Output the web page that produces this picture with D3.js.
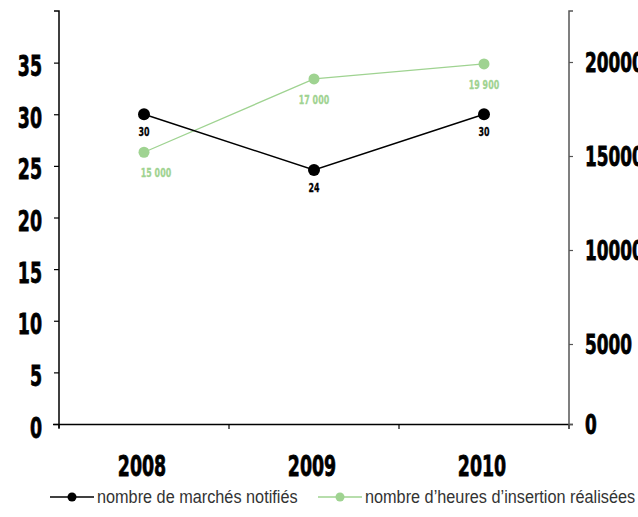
<!DOCTYPE html>
<html><head><meta charset="utf-8">
<script src="https://cdn.jsdelivr.net/npm/d3@7"></script>
<style>
html,body{margin:0;padding:0;background:#fff;}
svg{display:block;}
.tk{font-family:"DejaVu Sans",sans-serif;font-weight:bold;}
</style></head>
<body>
<svg id="c" width="638" height="517"></svg>
<script>
const years = ["2008","2009","2010"];
const marches = [30, 24.6, 30];
const marchesLabels = ["30","24","30"];
const heures = [15200, 19100, 19900];
const heuresLabels = ["15 000","17 000","19 900"];
const leftTicks = [0,5,10,15,20,25,30,35];
const rightTicks = [0,5000,10000,15000,20000];
const legendLabels = ["nombre de marchés notifiés","nombre d’heures d’insertion réalisées"];

const black = "#000", green = "#9fd391";
const svg = d3.select("#c");
const L = 59, R = 569, B = 424, T = 11;

function squeeze(sel, s) {
  sel.each(function () {
    const t = d3.select(this);
    const xx = +t.attr("x") || 0, yy = +t.attr("y") || 0;
    t.attr("x", 0).attr("y", 0).attr("transform", `translate(${xx},${yy}) scale(${s},1)`);
  });
}

const x = d3.scaleBand().domain(years).range([L, R]);
const yL = d3.scaleLinear().domain([0, 40]).range([B, T]);
const yR = d3.scaleLinear().domain([0, 5000, 20000, 22700]).range([B, 344, 62, T]);

// x axis
const gx = svg.append("g").attr("transform", `translate(0,${B})`)
  .call(d3.axisBottom(x).tickSize(0));
gx.select(".domain").attr("d", `M${L-6},0.5H${R+4}`).attr("stroke","#000").attr("stroke-width",1.5);
gx.selectAll("text").attr("class","tk").attr("font-size",29).attr("fill","#000")
  .attr("stroke","#000").attr("stroke-width",0.8).attr("dy",0).attr("y",52).attr("x",-2);
squeeze(gx.selectAll("text"), 0.6);
svg.append("g").selectAll("line").data([L, R, ...years.slice(1).map(d => x(d))]).join("line")
  .attr("x1", d => d).attr("x2", d => d).attr("y1", B).attr("y2", B + 5)
  .attr("stroke","#000").attr("stroke-width",1.2);

// left axis
const gl = svg.append("g").attr("transform", `translate(${L},0)`)
  .call(d3.axisLeft(yL).tickValues(leftTicks).tickSize(5).tickPadding(12));
gl.select(".domain").attr("stroke","#000").attr("stroke-width",1.5)
  .attr("d", `M-5,${T}H0V${B+4}`);
gl.selectAll(".tick line").attr("stroke","#000").attr("stroke-width",1.2);
gl.selectAll("text").attr("class","tk").attr("font-size",29).attr("fill","#000")
  .attr("stroke","#000").attr("stroke-width",0.8).attr("dy","0").attr("y",13);
squeeze(gl.selectAll("text"), 0.6);

// right axis
const gr = svg.append("g").attr("transform", `translate(${R},0)`)
  .call(d3.axisRight(yR).tickValues(rightTicks).tickFormat(d3.format("d")).tickSize(4).tickPadding(12));
gr.select(".domain").attr("stroke","#555").attr("stroke-width",1.5)
  .attr("d", `M4,${T}H0V${B+5}`);
gr.selectAll(".tick line").attr("stroke","#555").attr("stroke-width",1.2);
gr.selectAll("text").attr("class","tk").attr("font-size",26).attr("fill","#000")
  .attr("stroke","#000").attr("stroke-width",0.8).attr("dy","0").attr("y",9);
squeeze(gr.selectAll("text"), 0.65);

const cx = d => x(d) + x.bandwidth()/2;

// green series
const lineG = d3.line().x((d,i) => cx(years[i])).y(d => yR(d));
svg.append("path").datum(heures).attr("d", lineG).attr("fill","none").attr("stroke",green).attr("stroke-width",1.3);
svg.append("g").selectAll("circle").data(heures).join("circle")
  .attr("cx",(d,i)=>cx(years[i])).attr("cy",d=>yR(d)).attr("r",5.5).attr("fill",green);
const gt = svg.append("g").selectAll("text").data(heures).join("text")
  .attr("class","tk").attr("font-size",12).attr("fill",green).attr("stroke",green).attr("stroke-width",0.3)
  .attr("text-anchor","middle")
  .attr("x",(d,i)=>cx(years[i]) + (i===0 ? 12 : 0)).attr("y",d=>yR(d)+25)
  .text((d,i)=>heuresLabels[i]);
squeeze(gt, 0.66);

// black series
const lineB = d3.line().x((d,i) => cx(years[i])).y(d => yL(d));
svg.append("path").datum(marches).attr("d", lineB).attr("fill","none").attr("stroke",black).attr("stroke-width",1.5);
svg.append("g").selectAll("circle").data(marches).join("circle")
  .attr("cx",(d,i)=>cx(years[i])).attr("cy",d=>yL(d)).attr("r",6).attr("fill",black);
const bt = svg.append("g").selectAll("text").data(marches).join("text")
  .attr("class","tk").attr("font-size",12).attr("fill",black).attr("stroke",black).attr("stroke-width",0.3)
  .attr("text-anchor","middle")
  .attr("x",(d,i)=>cx(years[i])).attr("y",d=>yL(d)+22)
  .text((d,i)=>marchesLabels[i]);
squeeze(bt, 0.66);

// legend
const lg = svg.append("g").attr("transform","translate(0,497)");
const items = [{x:50, c:black, t:legendLabels[0]}, {x:318, c:green, t:legendLabels[1]}];
items.forEach(it => {
  lg.append("line").attr("x1",it.x).attr("x2",it.x+44).attr("y1",0).attr("y2",0).attr("stroke",it.c).attr("stroke-width",1.5);
  lg.append("circle").attr("cx",it.x+22).attr("cy",0).attr("r",4.5).attr("fill",it.c);
  const t = lg.append("text").attr("x",it.x+47).attr("y",5.5).attr("font-family","'Liberation Sans',sans-serif")
    .attr("font-size",17.5).attr("fill","#333").text(it.t);
  squeeze(t, 0.93);
});
</script>
</body></html>
